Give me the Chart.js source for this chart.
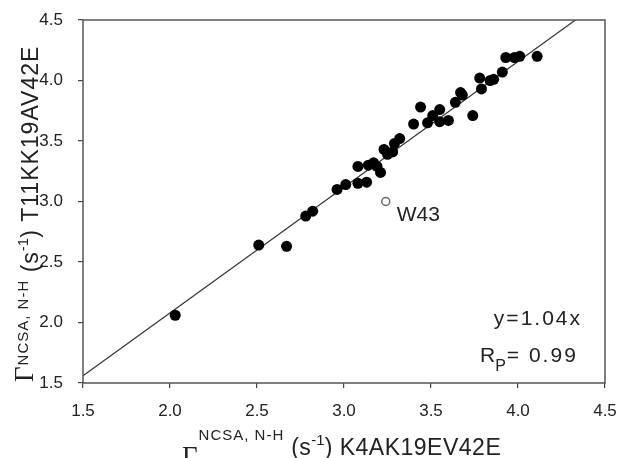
<!DOCTYPE html>
<html>
<head>
<meta charset="utf-8">
<script src="https://cdn.jsdelivr.net/npm/chart.js@4.4.1/dist/chart.umd.min.js"></script>
<style>
  html, body { margin: 0; padding: 0; background: #fff; }
  #chart { display: block; }
</style>
</head>
<body>
<canvas id="chart" width="621" height="458"></canvas>
<script>
// relaxation rates, K4AK19EV42E (x) against T11KK19AV42E (y)
const xValues = [2.03, 2.51, 2.67, 2.78, 2.82, 2.96, 3.01, 3.08, 3.13, 3.08,
                 3.14, 3.17, 3.19, 3.21, 3.23, 3.25, 3.28, 3.29, 3.32, 3.40,
                 3.44, 3.48, 3.51, 3.55, 3.55, 3.60, 3.64, 3.67, 3.68, 3.74,
                 3.78, 3.79, 3.84, 3.86, 3.91, 3.93, 3.98, 4.01, 4.11];
const yValues = [2.06, 2.64, 2.63, 2.88, 2.92, 3.10, 3.14, 3.15, 3.16, 3.29,
                 3.30, 3.32, 3.29, 3.24, 3.43, 3.39, 3.41, 3.48, 3.52, 3.64,
                 3.78, 3.65, 3.71, 3.76, 3.66, 3.67, 3.82, 3.90, 3.88, 3.71,
                 4.02, 3.93, 4.00, 4.01, 4.07, 4.19, 4.19, 4.20, 4.20];

// outlier, drawn open
const outlierX = [3.24];
const outlierY = [3.00];
const outlierLabel = 'W43';

// fit line y = 1.04x
const fitX = [1.5, 4.33];
const fitY = [1.56, 4.50];
const fitText = 'y=1.04x';
const corrValue = '0.99';

const axisTicks = [1.5, 2.0, 2.5, 3.0, 3.5, 4.0, 4.5];

const TEXT = '#222';
const SANS = '"Liberation Sans", Arial, sans-serif';
const SERIF = '"Liberation Serif", "Times New Roman", serif';

function zip(xs, ys) {
  return xs.map((x, i) => ({ x: x, y: ys[i] }));
}

// draws a run of text pieces (different sizes / raised) along one baseline
function drawRich(ctx, pieces, x, y) {
  let cx = x;
  pieces.forEach(p => {
    ctx.font = p.font;
    ctx.letterSpacing = p.ls || '0px';
    cx += p.dx || 0;
    ctx.fillText(p.text, cx, y + (p.dy || 0));
    cx += ctx.measureText(p.text).width;
  });
  ctx.letterSpacing = '0px';
}

const decorPlugin = {
  id: 'decor',
  afterDraw(chart) {
    const ctx = chart.ctx;
    const a = chart.chartArea;
    const xs = chart.scales.x, ys = chart.scales.y;

    ctx.save();
    // frame
    ctx.strokeStyle = '#555';
    ctx.lineWidth = 1.5;
    ctx.strokeRect(a.left, a.top, a.right - a.left, a.bottom - a.top);

    ctx.fillStyle = TEXT;
    ctx.textAlign = 'left';
    ctx.textBaseline = 'alphabetic';

    // x title
    drawRich(ctx, [
      { text: '\u0393', font: '27px ' + SERIF, dy: 10 },
      { text: 'NCSA, N-H', font: '15px ' + SANS, dy: -15, dx: 1, ls: '1px' },
      { text: ' (s', font: '23px ' + SANS, ls: '0.5px' },
      { text: '-1', font: '15px ' + SANS, dy: -10 },
      { text: ') K4AK19EV42E', font: '23px ' + SANS, ls: '0.5px' }
    ], 182, 455);

    // y title
    ctx.save();
    ctx.translate(38, 382);
    ctx.rotate(-Math.PI / 2);
    drawRich(ctx, [
      { text: '\u0393', font: '27px ' + SERIF, dy: -5 },
      { text: 'NCSA, N-H', font: '15px ' + SANS, dy: -10, dx: 1, ls: '1px' },
      { text: ' (s', font: '23px ' + SANS, ls: '1px' },
      { text: '-1', font: '15px ' + SANS, dy: -10 },
      { text: ') T11KK19AV42E', font: '23px ' + SANS, ls: '1px' }
    ], 0, 0);
    ctx.restore();

    // outlier label
    const px = xs.getPixelForValue(outlierX[0]);
    const py = ys.getPixelForValue(outlierY[0]);
    ctx.font = '21px ' + SANS;
    ctx.fillText(outlierLabel, px + 11, py + 19);

    // fit text, bottom right
    ctx.textAlign = 'right';
    ctx.font = '21px ' + SANS;
    ctx.letterSpacing = '2px';
    ctx.fillText(fitText, a.right - 23, a.bottom - 58);
    ctx.letterSpacing = '0px';
    ctx.textAlign = 'left';
    drawRich(ctx, [
      { text: 'R', font: '21px ' + SANS },
      { text: 'P', font: '16px ' + SANS, dy: 9 },
      { text: '= ' + corrValue, font: '21px ' + SANS, ls: '2px', dx: 1 }
    ], a.right - 125, a.bottom - 21);
    ctx.restore();
  }
};

function axisOpts(fitSize, side) {
  return {
    type: 'linear',
    min: axisTicks[0],
    max: axisTicks[axisTicks.length - 1],
    afterBuildTicks: s => { s.ticks = axisTicks.map(v => ({ value: v })); },
    afterFit: s => {
      // keep the plot box fixed, labels may hang over the padding
      if (side === 'x') s.height = fitSize; else s.width = fitSize;
      s.paddingLeft = 0; s.paddingRight = 0;
      s.paddingTop = 0; s.paddingBottom = 0;
    },
    grid: {
      display: true,
      drawOnChartArea: false,
      drawTicks: true,
      tickLength: 5,
      color: '#444',
      lineWidth: 1.2
    },
    border: { display: false },
    ticks: {
      color: TEXT,
      font: { family: SANS, size: 17 },
      padding: side === 'x' ? 13 : 15,
      maxRotation: 0,
      autoSkip: false,
      callback: v => Number(v).toFixed(1)
    }
  };
}

new Chart(document.getElementById('chart'), {
  type: 'scatter',
  data: {
    datasets: [
      {
        label: 'data',
        data: zip(xValues, yValues),
        pointRadius: 5.5,
        pointBackgroundColor: '#000',
        pointBorderColor: '#000',
        pointBorderWidth: 0,
        order: 1
      },
      {
        label: outlierLabel,
        data: zip(outlierX, outlierY),
        pointRadius: 4,
        pointBackgroundColor: '#fff',
        pointBorderColor: '#666',
        pointBorderWidth: 1.5,
        order: 2
      },
      {
        label: 'fit',
        data: zip(fitX, fitY),
        showLine: true,
        pointRadius: 0,
        borderColor: '#333',
        borderWidth: 1.2,
        order: 3
      }
    ]
  },
  options: {
    responsive: false,
    animation: false,
    layout: { padding: { left: 0, right: 16, top: 20, bottom: 0 } },
    plugins: {
      legend: { display: false },
      tooltip: { enabled: false }
    },
    scales: {
      x: axisOpts(75, 'x'),
      y: axisOpts(83, 'y')
    }
  },
  plugins: [decorPlugin]
});
</script>
</body>
</html>
